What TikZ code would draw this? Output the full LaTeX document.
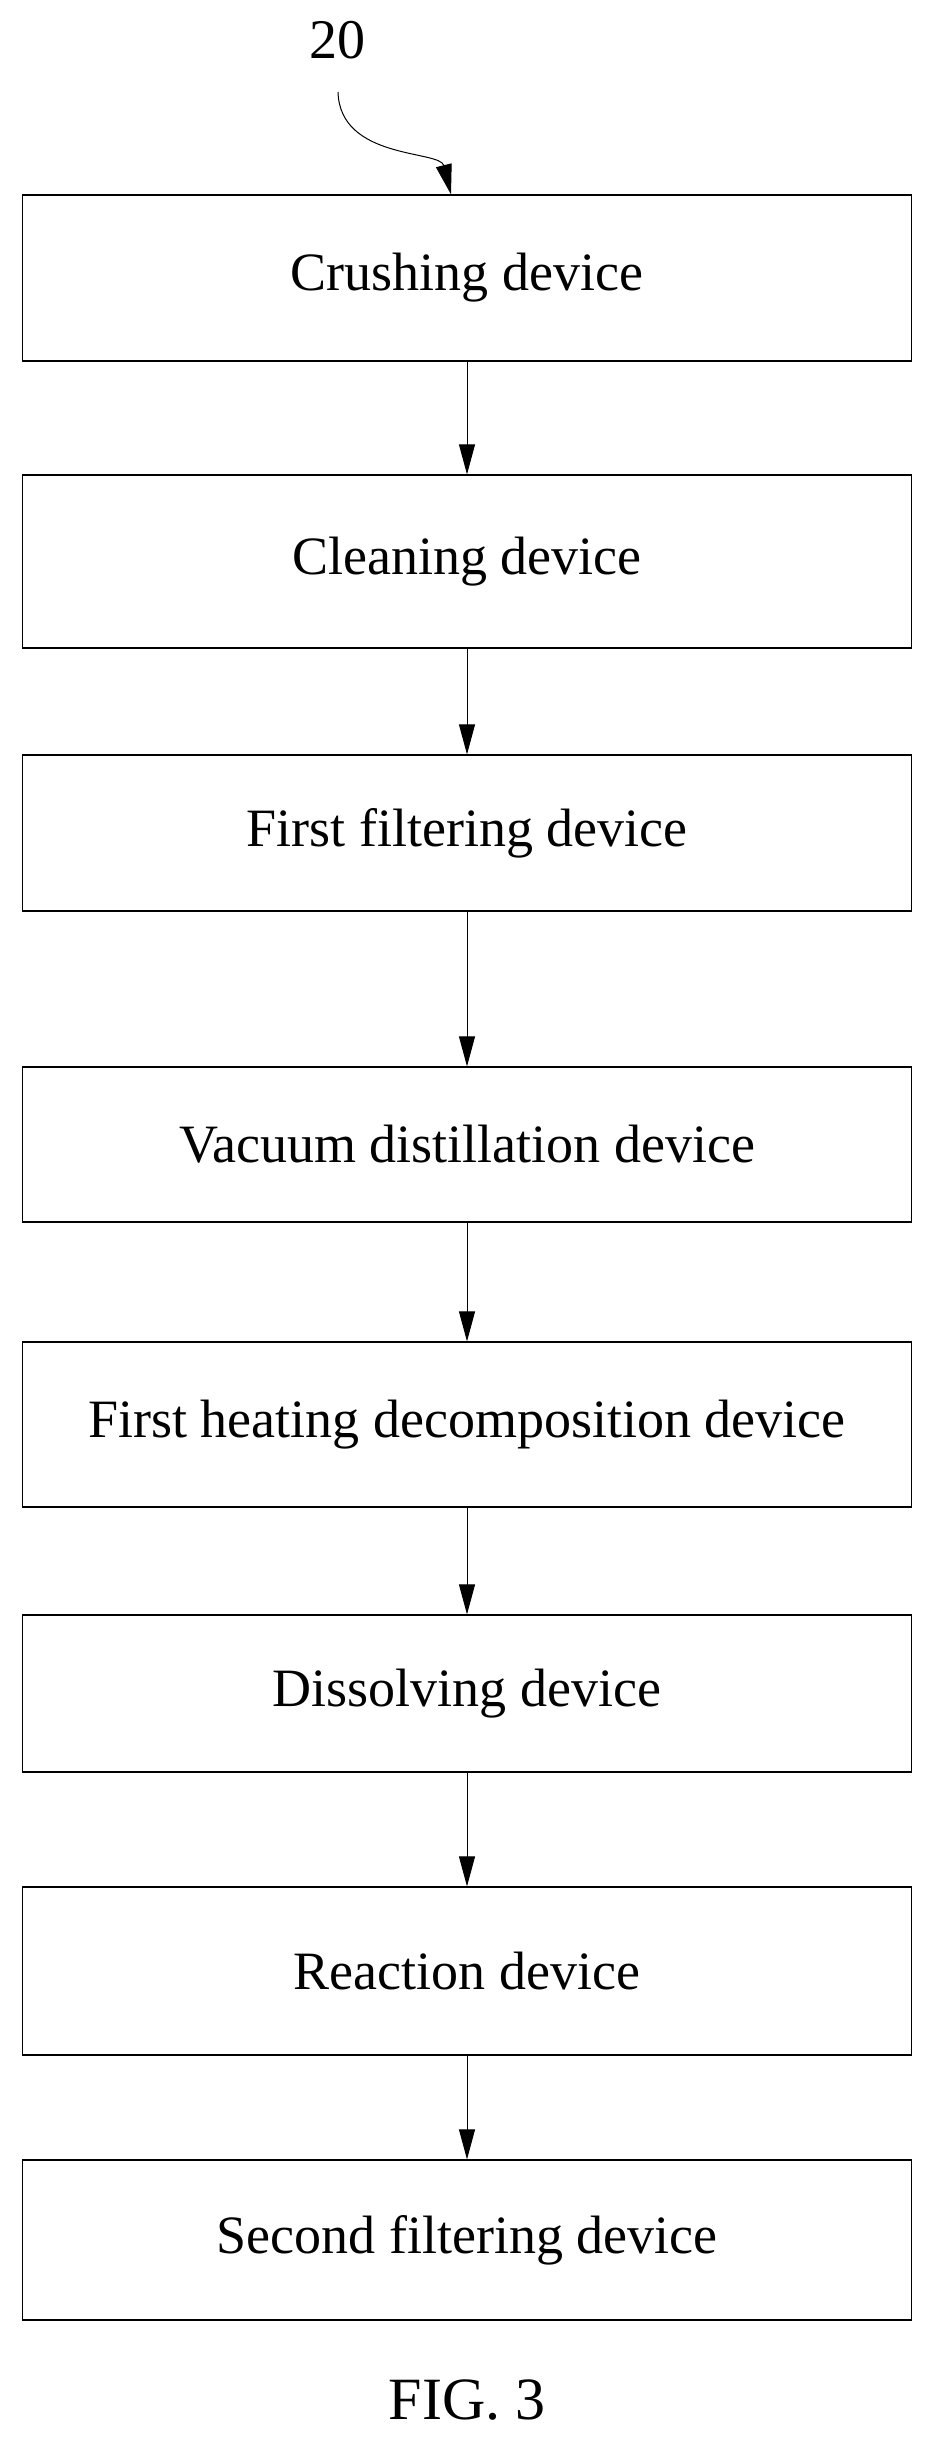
\documentclass[tikz,border=0pt]{standalone}
\usepackage{fontspec}
\setmainfont{Liberation Serif}
\usetikzlibrary{arrows.meta}
\begin{document}
\begin{tikzpicture}[x=1pt,y=-1pt,
  box/.style={draw,line width=1.2pt,inner sep=0pt,font=\fontsize{54}{60}\selectfont},
  arr/.style={line width=1pt,-{Triangle[length=30pt,width=16pt]}}]
\useasboundingbox (0,0) rectangle (934,2438);
\def\bx#1#2#3#4{\node[box,minimum width=889pt,minimum height=#3pt] (#1) at (467,#2) {#4};}
\bx{b1}{278}{166}{Crushing device}
\bx{b2}{561.5}{173}{Cleaning device}
\bx{b3}{833}{156}{First filtering device}
\bx{b4}{1144.5}{155}{Vacuum distillation device}
\bx{b5}{1424.5}{165}{First heating decomposition device}
\bx{b6}{1693.5}{157}{Dissolving device}
\bx{b7}{1971}{168}{Reaction device}
\bx{b8}{2240}{160}{Second filtering device}
\foreach \a/\b in {b1/b2,b2/b3,b3/b4,b4/b5,b5/b6,b6/b7,b7/b8}
  \draw[arr] (\a.south) -- (\b.north);
\node[font=\fontsize{56}{60}\selectfont] (lab) at (337,40) {20};
\coordinate (c) at (338,92);
\draw[arr] (c) .. controls (340,160) and (440,150) .. (b1.north-|451,0);
\node[font=\fontsize{60}{66}\selectfont] (fig) at (467,2400) {FIG. 3};
\end{tikzpicture}
\end{document}
